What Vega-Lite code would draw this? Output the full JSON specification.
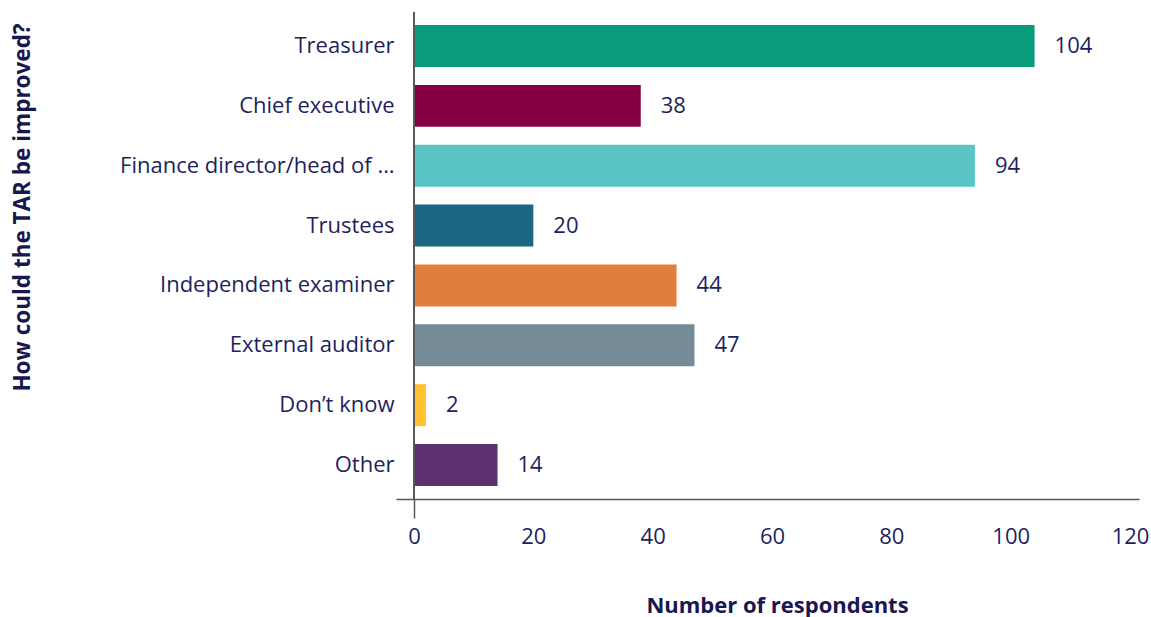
{
  "$schema": "https://vega.github.io/schema/vega-lite/v6.json",
  "width": 743,
  "height": 487,
  "autosize": {"type": "none"},
  "padding": {"left": 396, "top": 12, "right": 12, "bottom": 118},
  "background": "white",
  "config": {"view": {"stroke": null}, "font": "Open Sans"},
  "data": {
    "values": [
      {"role": "Treasurer", "count": 104},
      {"role": "Chief executive", "count": 38},
      {"role": "Finance director/head of …", "count": 94},
      {"role": "Trustees", "count": 20},
      {"role": "Independent examiner", "count": 44},
      {"role": "External auditor", "count": 47},
      {"role": "Don’t know", "count": 2},
      {"role": "Other", "count": 14}
    ]
  },
  "layer": [
    {
      "mark": {"type": "bar"},
      "encoding": {
        "y": {
          "field": "role",
          "type": "nominal",
          "sort": null,
          "scale": {"paddingInner": 0.3, "paddingOuter": 0.218},
          "axis": {
            "domain": false,
            "ticks": false,
            "labelPadding": 2,
            "labelFontSize": 22,
            "labelColor": "#221f5e",
            "labelLimit": 400,
            "title": "How could the TAR be improved?",
            "titleFontSize": 22.5,
            "titleFontWeight": "bold",
            "titleColor": "#1a1650",
            "titleAngle": 270,
            "titleX": -374,
            "titleY": 195,
            "titleAlign": "center",
            "titleBaseline": "middle"
          }
        },
        "x": {
          "field": "count",
          "type": "quantitative",
          "scale": {"domain": [-3.017, 121.5], "nice": false, "zero": false},
          "axis": {
            "values": [0, 20, 40, 60, 80, 100, 120],
            "grid": false,
            "domainColor": "#595959",
            "domainWidth": 1.5,
            "ticks": true,
            "tickSize": 19,
            "tickColor": "#595959",
            "tickWidth": 1.5,
            "tickOpacity": {"condition": {"test": "datum.value === 0", "value": 1}, "value": 0},
            "labelPadding": 8,
            "labelFontSize": 22,
            "labelColor": "#221f5e",
            "labelFlush": false,
            "title": "Number of respondents",
            "titleFontSize": 22,
            "titleFontWeight": "bold",
            "titleColor": "#1a1650",
            "titleX": 381,
            "titleY": 106,
            "titleAlign": "center",
            "titleBaseline": "middle"
          }
        },
        "x2": {"datum": 0},
        "color": {
          "field": "role",
          "type": "nominal",
          "legend": null,
          "scale": {
            "domain": ["Treasurer", "Chief executive", "Finance director/head of …", "Trustees", "Independent examiner", "External auditor", "Don’t know", "Other"],
            "range": ["#0a9a7c", "#850045", "#5bc5c5", "#1b6680", "#e07e3c", "#758b97", "#ffc130", "#5c306e"]
          }
        }
      }
    },
    {
      "mark": {"type": "rule", "color": "#595959", "strokeWidth": 1.5},
      "encoding": {"x": {"datum": 0}}
    },
    {
      "mark": {"type": "text", "align": "left", "baseline": "middle", "dx": 20, "fontSize": 22, "color": "#221f5e"},
      "encoding": {
        "y": {"field": "role", "type": "nominal", "sort": null},
        "x": {"field": "count", "type": "quantitative"},
        "text": {"field": "count", "type": "quantitative"}
      }
    }
  ]
}
